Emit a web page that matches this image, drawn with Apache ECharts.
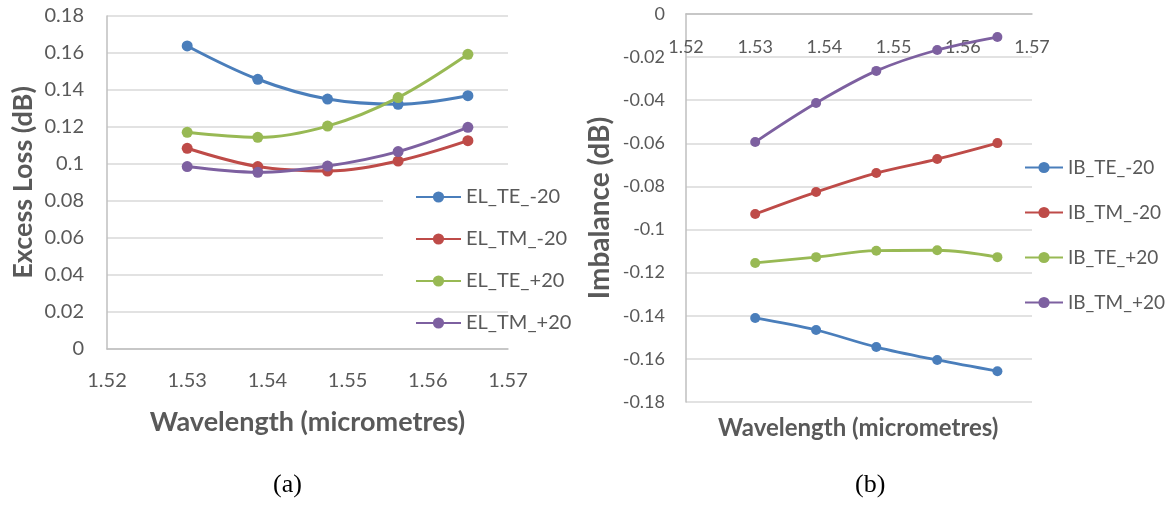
<!DOCTYPE html>
<html>
<head>
<meta charset="utf-8">
<script src="https://cdn.jsdelivr.net/npm/echarts@6/dist/echarts.min.js"></script>
<style>
html,body{margin:0;padding:0;background:#fff;}
#chart{width:1166px;height:506px;}
</style>
</head>
<body>
<div id="chart"></div>
<script>
// Data
var wavelengths = [1.53, 1.5388, 1.5475, 1.5563, 1.565];
var xTicks = [1.52, 1.53, 1.54, 1.55, 1.56, 1.57];

var EL_TE_m20 = [0.1638, 0.1458, 0.1351, 0.1323, 0.1369];
var EL_TM_m20 = [0.1085, 0.0986, 0.0962, 0.1016, 0.1126];
var EL_TE_p20 = [0.1171, 0.1144, 0.1205, 0.1359, 0.1593];
var EL_TM_p20 = [0.0986, 0.0955, 0.0989, 0.1067, 0.1198];

var IB_TE_m20 = [-0.1410, -0.1466, -0.1545, -0.1605, -0.1657];
var IB_TM_m20 = [-0.0928, -0.0826, -0.0738, -0.0673, -0.0599];
var IB_TE_p20 = [-0.1155, -0.1128, -0.1098, -0.1096, -0.1128];
var IB_TM_p20 = [-0.0594, -0.0413, -0.0264, -0.0167, -0.0107];

var elNames = ['EL_TE_-20', 'EL_TM_-20', 'EL_TE_+20', 'EL_TM_+20'];
var ibNames = ['IB_TE_-20', 'IB_TM_-20', 'IB_TE_+20', 'IB_TM_+20'];
var colors = ['#4A7EBB', '#BE4B48', '#98B954', '#7D60A0'];

var elSeries = [EL_TE_m20, EL_TM_m20, EL_TE_p20, EL_TM_p20];
var ibSeries = [IB_TE_m20, IB_TM_m20, IB_TE_p20, IB_TM_p20];

function pairs(ys){ return wavelengths.map(function(x,i){ return [x, ys[i]]; }); }
function fmt(v){ return parseFloat(v.toFixed(2)).toString(); }

var labelColor = '#595959';
var gridColor = '#D9D9D9';
var axisColor = '#BFBFBF';
var fontA = 'Lato, "Open Sans", sans-serif';

var series = [];
elSeries.forEach(function(d,i){
  series.push({
    name: elNames[i], type: 'line', xAxisIndex: 0, yAxisIndex: 0,
    data: pairs(d), smooth: 0.35, symbol: 'circle', symbolSize: 11,
    lineStyle: {width: 3, color: colors[i]}, itemStyle: {color: colors[i]}, z: 3
  });
});
ibSeries.forEach(function(d,i){
  series.push({
    name: ibNames[i], type: 'line', xAxisIndex: 1, yAxisIndex: 1,
    data: pairs(d), smooth: 0.35, symbol: 'circle', symbolSize: 10,
    lineStyle: {width: 2.8, color: colors[i]}, itemStyle: {color: colors[i]}, z: 3
  });
});

var chart = echarts.init(document.getElementById('chart'), null, {renderer: 'canvas'});
chart.setOption({
  animation: false,
  backgroundColor: '#fff',
  color: colors,
  grid: [
    {left: 107, top: 16, width: 401, height: 333},
    {left: 686, top: 14, width: 346, height: 388}
  ],
  xAxis: [
    {
      type: 'value', gridIndex: 0, min: 1.52, max: 1.57, interval: 0.01,
      axisLine: {show: true, lineStyle: {color: axisColor, width: 1.5}},
      axisTick: {show: false}, splitLine: {show: false},
      axisLabel: {color: labelColor, fontFamily: fontA, fontSize: 20, margin: 22, formatter: function(v){ return v.toFixed(2); }},
      name: 'Wavelength (micrometres)', nameLocation: 'middle', nameGap: 60,
      nameTextStyle: {color: labelColor, fontFamily: fontA, fontWeight: 'bold', fontSize: 27}
    },
    {
      type: 'value', gridIndex: 1, min: 1.52, max: 1.57, interval: 0.01, position: 'top',
      axisLine: {show: true, onZero: false, lineStyle: {color: axisColor, width: 1.5}},
      axisTick: {show: false}, splitLine: {show: false},
      axisLabel: {inside: true, color: labelColor, fontFamily: fontA, fontSize: 18, margin: 24, formatter: function(v){ return v.toFixed(2); }}
    }
  ],
  yAxis: [
    {
      type: 'value', gridIndex: 0, min: 0, max: 0.18, interval: 0.02,
      axisLine: {show: true, lineStyle: {color: axisColor, width: 1.5}},
      axisTick: {show: false},
      splitLine: {show: true, lineStyle: {color: gridColor, width: 1.5}},
      axisLabel: {color: labelColor, fontFamily: fontA, fontSize: 20, margin: 23, formatter: fmt},
      name: 'Excess Loss (dB)', nameLocation: 'middle', nameGap: 70, nameRotate: 90,
      nameTextStyle: {color: labelColor, fontFamily: fontA, fontWeight: 'bold', fontSize: 27}
    },
    {
      type: 'value', gridIndex: 1, min: -0.18, max: 0, interval: 0.02,
      axisLine: {show: true, onZero: false, lineStyle: {color: axisColor, width: 1.5}},
      axisTick: {show: false},
      splitLine: {show: true, lineStyle: {color: gridColor, width: 1.5}},
      axisLabel: {color: labelColor, fontFamily: fontA, fontSize: 18, margin: 21, formatter: fmt},
      name: 'Imbalance (dB)', nameLocation: 'middle', nameGap: 72, nameRotate: 90,
      nameTextStyle: {color: labelColor, fontFamily: fontA, fontWeight: 'bold', fontSize: 28}
    }
  ],
  legend: [
    {
      data: elNames, orient: 'vertical', left: 410, top: 182, itemGap: 22,
      itemWidth: 45, itemHeight: 14,
      textStyle: {color: labelColor, fontFamily: fontA, fontSize: 20}
    },
    {
      data: ibNames, orient: 'vertical', left: 1019, top: 153, itemGap: 26,
      itemWidth: 38, itemHeight: 14,
      textStyle: {color: labelColor, fontFamily: fontA, fontSize: 19}
    }
  ],
  graphic: [
    {type: 'rect', z: 1, shape: {x: 383, y: 180, width: 127, height: 120}, style: {fill: '#fff'}},
    {type: 'text', left: 718, top: 416, style: {text: 'Wavelength (micrometres)', fill: labelColor, font: 'bold 24px ' + fontA}},
    {type: 'text', left: 273, top: 472, style: {text: '(a)', fill: '#000', font: '26px "Liberation Serif", serif'}},
    {type: 'text', left: 855, top: 472, style: {text: '(b)', fill: '#000', font: '26px "Liberation Serif", serif'}}
  ],
  series: series
});
</script>
</body>
</html>
